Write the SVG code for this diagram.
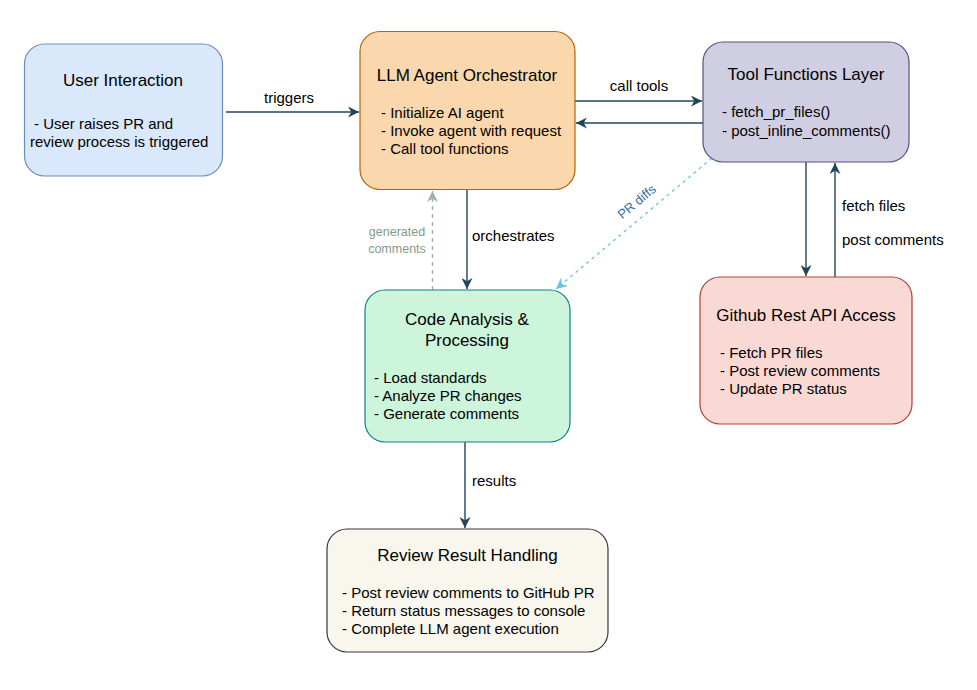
<svg xmlns="http://www.w3.org/2000/svg" width="977" height="690" viewBox="0 0 977 690">
<style>
text { font-family: "Liberation Sans", Arial, sans-serif; fill: #000; }
.t { font-size: 17px; text-anchor: middle; }
.b { font-size: 15px; }
.lbl { font-size: 15px; }
.e { fill: none; stroke: #23445d; stroke-width: 1.4; }
</style>
<defs>
<marker id="ah" markerUnits="userSpaceOnUse" viewBox="0 0 10 10" markerWidth="11" markerHeight="11" refX="10" refY="5" orient="auto">
<path d="M0,0 L10,5 L0,10 L3,5 z" fill="#23445d"/>
</marker>
<marker id="ahg" markerUnits="userSpaceOnUse" viewBox="0 0 10 10" markerWidth="11" markerHeight="11" refX="10" refY="5" orient="auto">
<path d="M0,0 L10,5 L0,10 L3,5 z" fill="#9bb5a5"/>
</marker>
<marker id="ahb" markerUnits="userSpaceOnUse" viewBox="0 0 10 10" markerWidth="11" markerHeight="11" refX="10" refY="5" orient="auto">
<path d="M0,0 L10,5 L0,10 L3,5 z" fill="#6cc3e0"/>
</marker>
</defs>
<rect width="977" height="690" fill="#ffffff"/>

<g id="connectors">
<line class="e" x1="226" y1="112" x2="359" y2="112" marker-end="url(#ah)"/>
<text class="lbl" x="289" y="103" text-anchor="middle">triggers</text>
<line class="e" x1="575" y1="101" x2="702" y2="101" marker-end="url(#ah)"/>
<text class="lbl" x="639" y="91" text-anchor="middle">call tools</text>
<line class="e" x1="703" y1="123" x2="576" y2="123" marker-end="url(#ah)"/>
<line class="e" x1="467" y1="190" x2="467" y2="289" marker-end="url(#ah)"/>
<text class="lbl" x="472" y="241">orchestrates</text>
<line x1="432.5" y1="290" x2="432.5" y2="191" fill="none" stroke="#9bb5a5" stroke-width="1.4" stroke-dasharray="4 4" marker-end="url(#ahg)"/>
<text x="397" y="236" font-size="12.5" text-anchor="middle" style="fill:#7f9c8c">generated</text>
<text x="397" y="253" font-size="12.5" text-anchor="middle" style="fill:#7f9c8c">comments</text>
<line x1="712" y1="158" x2="556" y2="289" fill="none" stroke="#6cc3e0" stroke-width="1.4" stroke-dasharray="3 4" marker-end="url(#ahb)"/>
<text x="637" y="206" font-size="13" text-anchor="middle" transform="rotate(-40 637 202)" style="fill:#3a72a6">PR diffs</text>
<line class="e" x1="806" y1="162" x2="806" y2="276" marker-end="url(#ah)"/>
<line class="e" x1="835" y1="277" x2="835" y2="163" marker-end="url(#ah)"/>
<text class="lbl" x="842" y="211">fetch files</text>
<text class="lbl" x="842" y="245">post comments</text>
<line class="e" x1="465" y1="442" x2="465" y2="528" marker-end="url(#ah)"/>
<text class="lbl" x="472" y="486">results</text>
</g>

<g id="user-interaction">
<rect x="24.5" y="44" width="198" height="132" rx="20" fill="#dae8fc" stroke="#6c8ebf" stroke-width="1.2"/>
<text class="t" x="123" y="86">User Interaction</text>
<text class="b" x="34" y="129">- User raises PR and</text>
<text class="b" x="30" y="147">review process is triggered</text>
</g>

<g id="llm-agent-orchestrator">
<rect x="360" y="31.5" width="215" height="158" rx="20" fill="#fad7ac" stroke="#b46504" stroke-width="1.2"/>
<text class="t" x="467" y="81">LLM Agent Orchestrator</text>
<text class="b" x="381" y="118">- Initialize AI agent</text>
<text class="b" x="381" y="136">- Invoke agent with request</text>
<text class="b" x="381" y="154">- Call tool functions</text>
</g>

<g id="tool-functions-layer">
<rect x="703" y="42" width="206" height="120" rx="20" fill="#d0cee2" stroke="#56517e" stroke-width="1.2"/>
<text class="t" x="806" y="80">Tool Functions Layer</text>
<text class="b" x="722" y="117">- fetch_pr_files()</text>
<text class="b" x="722" y="136">- post_inline_comments()</text>
</g>

<g id="github-rest-api-access">
<rect x="700" y="277" width="212" height="147" rx="20" fill="#fad9d5" stroke="#ae4132" stroke-width="1.2"/>
<text class="t" x="806" y="321">Github Rest API Access</text>
<text class="b" x="720" y="358">- Fetch PR files</text>
<text class="b" x="720" y="376">- Post review comments</text>
<text class="b" x="720" y="394">- Update PR status</text>
</g>

<g id="code-analysis-processing">
<rect x="365" y="290" width="205" height="152" rx="20" fill="#ccf5dc" stroke="#0e8088" stroke-width="1.2"/>
<text class="t" x="467" y="325">Code Analysis &amp;</text>
<text class="t" x="467" y="346">Processing</text>
<text class="b" x="374" y="383">- Load standards</text>
<text class="b" x="374" y="401">- Analyze PR changes</text>
<text class="b" x="374" y="419">- Generate comments</text>
</g>

<g id="review-result-handling">
<rect x="327" y="529" width="281" height="123" rx="20" fill="#f9f7ed" stroke="#36393d" stroke-width="1.2"/>
<text class="t" x="467.5" y="561">Review Result Handling</text>
<text class="b" x="342" y="598">- Post review comments to GitHub PR</text>
<text class="b" x="342" y="616">- Return status messages to console</text>
<text class="b" x="342" y="634">- Complete LLM agent execution</text>
</g>
</svg>
